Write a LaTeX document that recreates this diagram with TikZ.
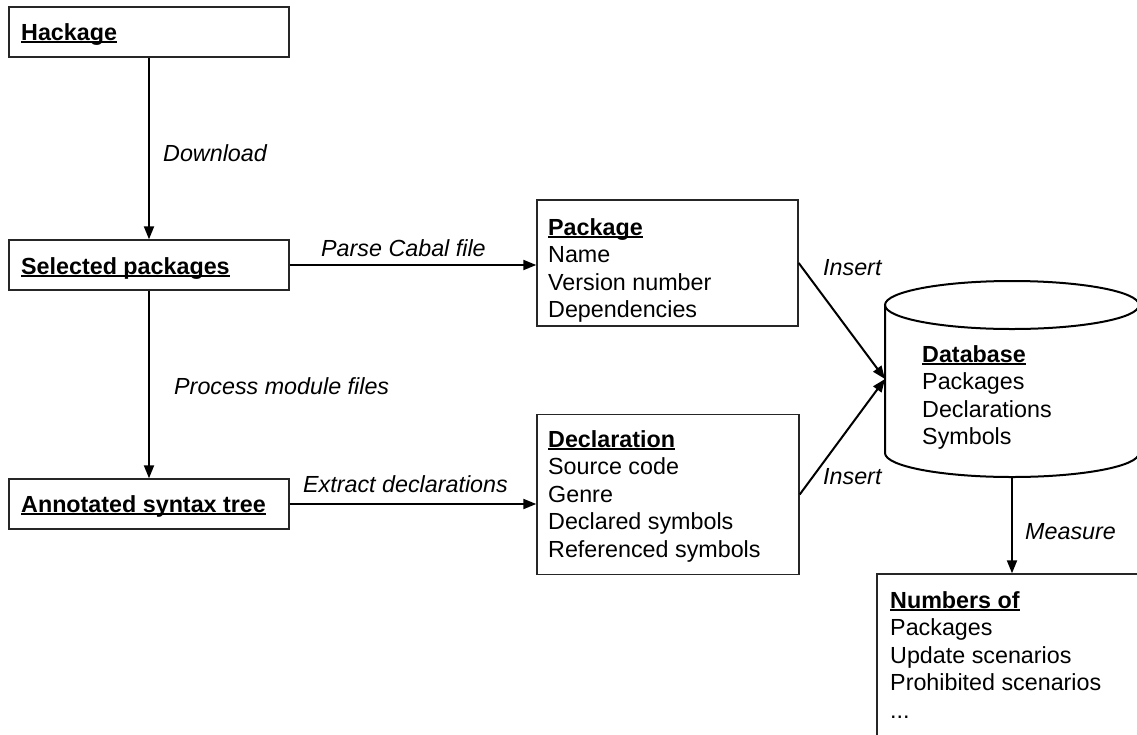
\documentclass[tikz,border=0pt]{standalone}
\usepackage{fontspec}
\setmainfont{Liberation Sans}
\usetikzlibrary{arrows.meta}
\newcommand\myul[1]{\setbox0\hbox{\bfseries #1}\rlap{\rule[-2.8pt]{\wd0}{1.7pt}}\box0}
\newcommand\tstrut{\rule{0pt}{18pt}}
\begin{document}
\begin{tikzpicture}[x=1pt,y=-1pt,
  txt/.style={font=\fontsize{23.3}{27.5}\selectfont, inner sep=0, anchor=north west, align=left},
  lbl/.style={font=\fontsize{23.3}{27.5}\selectfont\itshape, inner sep=0, anchor=base west},
  box/.style={draw=black!85, line width=1.4pt, inner sep=0, fill=white},
  conn/.style={line width=2pt, -{Triangle[length=13pt,width=10pt]}},
]
\useasboundingbox (0,0) rectangle (1137,734);
\clip (0,0) rectangle (1137,734);
\fill[white] (0,0) rectangle (1137,734);

% left column boxes
\node[box, minimum width=280pt, minimum height=50pt] (hack) at (149,32) {};
\node[box, minimum width=280pt, minimum height=50pt] (sel) at (149,265) {};
\node[box, minimum width=280pt, minimum height=50pt] (ast) at (149,504) {};
\node[txt] (hackt) at (21,22) {\tstrut\myul{Hackage}};
\node[txt] (selt) at (21,256) {\tstrut\myul{Selected packages}};
\node[txt] (astt) at (21,494) {\tstrut\myul{Annotated syntax tree}};

% middle boxes
\node[box, minimum width=261pt, minimum height=126pt] (pkg) at (667.5,263) {};
\node[txt] (pkgt) at (548,217) {\tstrut\myul{Package}\\Name\\Version number\\Dependencies};
\node[box, minimum width=262pt, minimum height=160pt] (decl) at (668,494.5) {};
\node[txt] (declt) at (548,429) {\tstrut\myul{Declaration}\\Source code\\Genre\\Declared symbols\\Referenced symbols};

% database cylinder
\draw[line width=2pt, fill=white] (885,305) -- (885,453) arc[start angle=180, end angle=0, x radius=127, y radius=24] -- (1139,305);
\draw[line width=2pt] (1012,305) ellipse[x radius=127, y radius=24];
\coordinate (dbw) at (885,379);
\coordinate (dbs) at (1012,477);
\node[txt] (dbt) at (922,344) {\tstrut\myul{Database}\\Packages\\Declarations\\Symbols};

% numbers box
\node[box, minimum width=268pt, minimum height=176pt] (num) at (1011,662) {};
\node[txt] (numt) at (890,590) {\tstrut\myul{Numbers of}\\Packages\\Update scenarios\\Prohibited scenarios\\...};

% connectors
\draw[conn] (hack.south) -- (sel.north);
\draw[conn] (sel.south) -- (ast.north);
\draw[conn] (sel.east) -- (sel.east -| pkg.west);
\draw[conn] (ast.east) -- (ast.east -| decl.west);
\draw[conn] (pkg.east) -- (dbw);
\draw[conn] (decl.east) -- (dbw);
\draw[conn] (dbs) -- (dbs |- num.north);

% labels
\node[lbl] (ldl) at (163,161) {Download};
\node[lbl] (lpc) at (321,256) {Parse Cabal file};
\node[lbl] (lpm) at (174,394) {Process module files};
\node[lbl] (led) at (303,492) {Extract declarations};
\node[lbl] (li1) at (823,275) {Insert};
\node[lbl] (li2) at (823,484) {Insert};
\node[lbl] (lms) at (1025,539) {Measure};
\end{tikzpicture}
\end{document}
